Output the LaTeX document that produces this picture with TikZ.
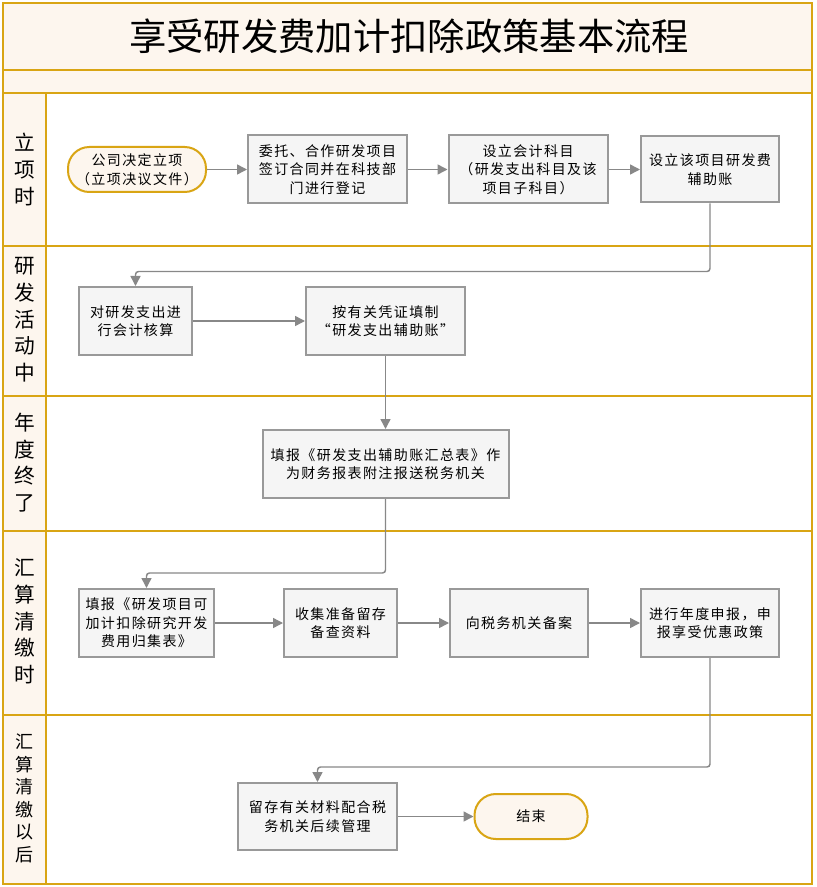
\documentclass[tikz,border=0pt]{standalone}
\usepackage{fontspec}
\setmainfont{Noto Sans CJK SC}
\newfontfamily\boxfont[LetterSpace=10]{Noto Sans CJK SC}
\usetikzlibrary{arrows.meta}
\definecolor{gold}{HTML}{D9A514}
\definecolor{cream}{HTML}{FDF6EE}
\definecolor{boxfill}{HTML}{F5F5F5}
\definecolor{boxline}{HTML}{999999}
\definecolor{connc}{HTML}{888888}
\begin{document}
\begin{tikzpicture}[x=0.75pt,y=-0.75pt,
  frameline/.style={draw=gold,line width=1.5pt},
  proc/.style={draw=boxline,fill=boxfill,line width=1.5pt,align=center,inner sep=0pt,
    font=\boxfont\fontsize{10.5pt}{13.9pt}\selectfont},
  term/.style={draw=gold,fill=cream,line width=1.5pt,rounded corners=16pt,align=center,inner sep=0pt,
    font=\boxfont\fontsize{10.5pt}{13.9pt}\selectfont},
  lanelabel/.style={align=center,inner sep=0pt,font=\fontsize{15.5pt}{20pt}\selectfont},
  conn/.style={draw=connc,line width=1.1pt,rounded corners=2.25pt,-{Triangle[length=7.5pt,width=7.5pt]}}
]
\useasboundingbox (0,0) rectangle (816,887);
% backgrounds
\fill[white] (0,0) rectangle (816,887);
\fill[cream] (3,3) rectangle (812,93);
\fill[cream] (3,93) rectangle (46,884);
% frame lines
\draw[frameline] (3,3) rectangle (812,884);
\draw[frameline] (3,70) -- (812,70);
\draw[frameline] (3,93) -- (812,93);
\draw[frameline] (46,93) -- (46,884);
\draw[frameline] (3,246) -- (812,246);
\draw[frameline] (3,396) -- (812,396);
\draw[frameline] (3,531) -- (812,531);
\draw[frameline] (3,715) -- (812,715);
% title
\node[font=\fontsize{28pt}{32pt}\selectfont,inner sep=0pt] (title) at (409,36.5) {享受研发费加计扣除政策基本流程};
% lane labels
\node[lanelabel] (l1) at (24.5,169.5) {立\\项\\时};
\node[lanelabel] (l2) at (24.5,320) {研\\发\\活\\动\\中};
\node[lanelabel] (l3) at (24.5,462.5) {年\\度\\终\\了};
\node[lanelabel] (l4) at (24.5,621.5) {汇\\算\\清\\缴\\时};
\node[lanelabel,font=\fontsize{13.5pt}{16.9pt}\selectfont] (l5) at (24.5,798.5) {汇\\算\\清\\缴\\以\\后};
% nodes
\node[term,minimum width=103.5pt,minimum height=33.75pt] (start) at (137,169.5) {公司决定立项\\（立项决议文件）};
\node[proc,minimum width=119.25pt,minimum height=51pt] (b1) at (327.5,169.5) {委托、合作研发项目\\签订合同并在科技部\\门进行登记};
\node[proc,minimum width=119.25pt,minimum height=51pt] (b2) at (528,169.5) {设立会计科目\\（研发支出科目及该\\项目子科目）};
\node[proc,minimum width=103.5pt,minimum height=49.5pt] (b3) at (710,169.5) {设立该项目研发费\\辅助账};
\node[proc,minimum width=84.75pt,minimum height=51pt] (b4) at (135.5,321) {对研发支出进\\行会计核算};
\node[proc,minimum width=119.25pt,minimum height=51pt] (b5) at (385.5,321) {按有关凭证填制\\“研发支出辅助账”};
\node[proc,minimum width=184.5pt,minimum height=51pt] (b6) at (385.5,464) {填报《研发支出辅助账汇总表》作\\为财务报表附注报送税务机关};
\node[proc,minimum width=101.25pt,minimum height=51pt] (b7) at (146.5,623) {填报《研发项目可\\加计扣除研究开发\\费用归集表》};
\node[proc,minimum width=84.75pt,minimum height=51pt] (b8) at (340.5,623) {收集准备留存\\备查资料};
\node[proc,minimum width=103.5pt,minimum height=51pt] (b9) at (519,623) {向税务机关备案};
\node[proc,minimum width=103.5pt,minimum height=51pt] (b10) at (710,623) {进行年度申报，申\\报享受优惠政策};
\node[proc,minimum width=119.25pt,minimum height=50.25pt] (b11) at (317.5,816.5) {留存有关材料配合税\\务机关后续管理};
\node[term,minimum width=84.75pt,minimum height=33.75pt] (end) at (531,816.5) {结束};
% connectors
\draw[conn] (start) -- (b1);
\draw[conn] (b1) -- (b2);
\draw[conn] (b2) -- (b3);
\draw[conn] (b3.south) -- ++(0,68) -| (b4.north);
\draw[conn] (b4) -- (b5);
\draw[conn] (b5) -- (b6);
\draw[conn] (b6.south) -- ++(0,74) -| (b7.north);
\draw[conn] (b7) -- (b8);
\draw[conn] (b8) -- (b9);
\draw[conn] (b9) -- (b10);
\draw[conn] (b10.south) -- ++(0,109) -| (b11.north);
\draw[conn] (b11) -- (end);
\end{tikzpicture}
\end{document}
